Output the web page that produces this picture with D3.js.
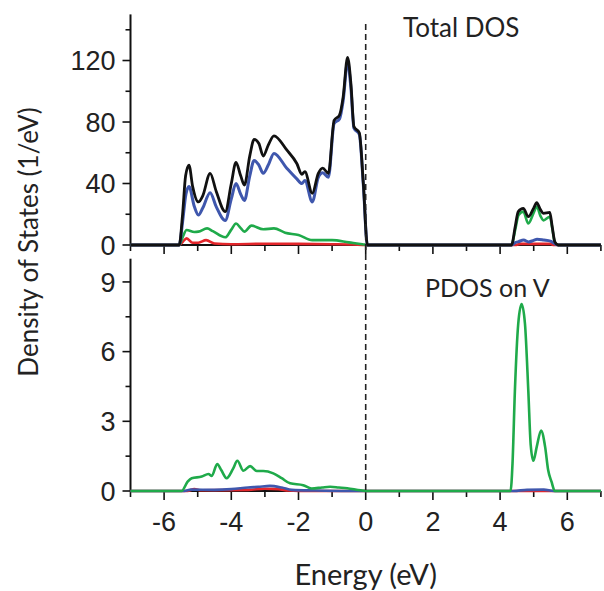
<!DOCTYPE html>
<html><head><meta charset="utf-8">
<script src="https://cdn.jsdelivr.net/npm/d3@7"></script>
<style>html,body{margin:0;padding:0;background:#fff;} svg{display:block;}</style>
</head><body>
<script>
// ---- data (energy eV, DOS) ----
const xTicks = [-6,-4,-2,0,2,4,6];
const topTicks = [0,40,80,120];
const bottomTicks = [0,3,6,9];
const topLabel = "Total DOS";
const bottomLabel = "PDOS on V";
const xTitle = "Energy (eV)";
const yTitle = "Density of States (1/eV)";

const totalDOS = [[-7,0],[-5.55,0],[-5.45,20],[-5.36,45],[-5.26,52],[-5.15,38],[-4.98,28],[-4.85,32],[-4.63,46.6],[-4.45,35],[-4.18,21.7],[-4.0,40],[-3.86,53.8],[-3.72,45],[-3.61,39],[-3.45,58],[-3.32,68.7],[-3.18,66],[-3.05,57.9],[-2.9,65],[-2.73,71],[-2.35,61.8],[-2.05,53],[-1.9,46],[-1.81,47.7],[-1.59,33.6],[-1.41,46.6],[-1.28,50],[-1.11,46.6],[-0.94,81],[-0.78,84.5],[-0.67,96.5],[-0.54,122],[-0.44,105],[-0.35,77],[-0.19,73],[-0.07,40],[0.05,0],[4.34,0],[4.45,12],[4.54,21.7],[4.69,23.8],[4.84,18.4],[5.0,24],[5.09,27.5],[5.2,23],[5.29,20.6],[5.48,21.2],[5.55,12],[5.63,2],[5.73,0],[7,0]];
const topBlue = [[-7,0],[-5.55,0],[-5.45,15],[-5.35,33],[-5.26,38],[-5.1,25],[-4.98,19.5],[-4.85,24],[-4.63,34],[-4.45,25],[-4.18,16],[-4.0,30],[-3.86,40],[-3.72,33],[-3.61,29],[-3.45,45],[-3.32,55],[-3.18,52],[-3.05,46.6],[-2.9,52],[-2.73,59.6],[-2.35,50],[-2.05,43],[-1.9,40],[-1.81,42],[-1.59,28],[-1.41,44],[-1.28,47],[-1.11,44],[-0.94,79],[-0.78,82],[-0.67,94],[-0.54,119],[-0.44,102],[-0.35,76],[-0.19,72],[-0.07,39],[0.05,0],[4.34,0],[4.45,1.5],[4.55,2.2],[4.7,3.2],[4.85,2],[5.0,3],[5.1,3.7],[5.3,3.2],[5.5,2.5],[5.63,0.8],[5.73,0],[7,0]];
const topGreen = [[-7,0],[-5.55,0],[-5.45,5],[-5.33,9.8],[-5.1,8.5],[-4.98,8.7],[-4.72,10.8],[-4.55,9],[-4.18,5],[-4.0,10],[-3.86,14],[-3.72,11],[-3.61,8.7],[-3.4,12.6],[-3.05,10.2],[-2.73,10.8],[-2.4,8],[-2.0,6.5],[-1.59,3.2],[-1.0,3.2],[-0.5,1.7],[-0.1,0.5],[0.05,0],[4.34,0],[4.45,10],[4.55,19.5],[4.69,21.7],[4.84,14],[5.0,21],[5.09,25],[5.2,19],[5.29,16],[5.48,18.4],[5.56,10],[5.63,1.5],[5.73,0],[7,0]];
const topRed = [[-7,0],[-5.55,0],[-5.45,2],[-5.33,4.3],[-5.15,1.5],[-4.98,1.5],[-4.75,3.2],[-4.5,1],[-4.0,0.5],[-3.0,0.8],[-2.0,0.7],[-1.0,0.5],[-0.4,0.3],[0.0,0],[4.45,0],[4.6,0.7],[5.5,0.7],[5.6,0],[7,0]];

const vGreen = [[-7,0],[-5.48,0],[-5.3,0.4],[-5.18,0.55],[-4.88,0.62],[-4.68,0.73],[-4.58,0.65],[-4.42,1.16],[-4.3,0.9],[-4.14,0.55],[-3.95,0.95],[-3.82,1.3],[-3.64,0.87],[-3.44,1.07],[-3.24,0.86],[-3.05,0.86],[-2.75,0.76],[-2.5,0.55],[-2.25,0.33],[-1.86,0.25],[-1.61,0.11],[-1.3,0.15],[-1.06,0.18],[-0.8,0.15],[-0.55,0.12],[-0.15,0.03],[0.1,0],[4.31,0],[4.37,1.2],[4.44,4.3],[4.54,7.2],[4.64,8.05],[4.74,7.2],[4.84,4.3],[4.91,2.0],[4.99,1.3],[5.09,1.9],[5.22,2.6],[5.34,1.9],[5.43,0.9],[5.53,0.4],[5.63,0],[7,0]];
const vBlue = [[-7,0],[-5.4,0],[-5.2,0.06],[-4.5,0.05],[-4.0,0.08],[-3.5,0.15],[-3.2,0.18],[-2.85,0.22],[-2.5,0.15],[-2.2,0.05],[-1.5,0.02],[-0.5,0],[4.4,0],[4.8,0.05],[5.3,0.06],[5.6,0],[7,0]];
const vRed = [[-7,0],[-5.3,0],[-5.1,0.08],[-4.9,0.03],[-3.5,0.05],[-3.0,0.1],[-2.6,0.08],[-2.3,0.02],[-2.0,0],[7,0]];

const colors = {black:"#111111", blue:"#3f57ad", green:"#1faa4a", red:"#e3262b"};

// ---- layout ----
const W = 604, H = 591;
const svg = d3.select("body").append("svg").attr("width",W).attr("height",H);

const x = d3.scaleLinear().domain([-7,7]).range([130.5,600.9]);
const yTop = d3.scaleLinear().domain([0,150]).range([245,14.4]);
const yBot = d3.scaleLinear().domain([0,10]).range([491,258.7]);

const tickFont = "'Liberation Sans', Arial, sans-serif";
const titleFont = "Lato, 'Open Sans', sans-serif";

function drawPanel(y, majors, minorStep, showXLabels){
  const gx = svg.append("g").attr("transform",`translate(0,${y(0)})`);
  gx.append("line").attr("x1",x(-7)).attr("x2",x(7)).attr("stroke","#111").attr("stroke-width",2);
  const xs = d3.range(-7,7.001,1);
  xs.forEach(v=>{
    const major = Math.abs(v%2)===0;
    gx.append("line").attr("x1",x(v)).attr("x2",x(v)).attr("y1",0).attr("y2",major?9:6)
      .attr("stroke","#111").attr("stroke-width",1.6);
  });
  if(showXLabels){
    xTicks.forEach(v=>{
      gx.append("text").attr("x",x(v)).attr("y",40).attr("text-anchor","middle")
        .attr("font-family",tickFont).attr("font-size",27).attr("fill","#222")
        .text(v<0? "-"+Math.abs(v) : String(v));
    });
  }
  const [d0,d1] = y.domain();
  const gy = svg.append("g").attr("transform",`translate(${x(-7)},0)`);
  gy.append("line").attr("y1",y(d0)).attr("y2",y(d1)).attr("stroke","#111").attr("stroke-width",2);
  const mins = d3.range(d0, d1+1e-6, minorStep);
  mins.forEach(v=>{
    const major = majors.includes(+v.toFixed(4));
    gy.append("line").attr("x1",major?-8:-5).attr("x2",0).attr("y1",y(v)).attr("y2",y(v))
      .attr("stroke","#111").attr("stroke-width",1.6);
  });
  majors.forEach(v=>{
    gy.append("text").attr("x",-15).attr("y",y(v)).attr("dy","0.36em").attr("text-anchor","end")
      .attr("font-family",tickFont).attr("font-size",27).attr("fill","#222").text(v);
  });
}

drawPanel(yTop, topTicks, 20, false);
drawPanel(yBot, bottomTicks, 1.5, true);

function curve(data, y, color, w){
  const line = d3.line().x(d=>x(d[0])).y(d=>y(d[1])).curve(d3.curveMonotoneX);
  svg.append("path").datum(data).attr("d",line).attr("fill","none")
    .attr("stroke",color).attr("stroke-width",w).attr("stroke-linejoin","round");
}
curve(topRed, yTop, colors.red, 2.6);
curve(topGreen, yTop, colors.green, 2.6);
curve(topBlue, yTop, colors.blue, 3);
curve(totalDOS, yTop, colors.black, 2.8);

curve(vRed, yBot, colors.red, 2.6);
curve(vBlue, yBot, colors.blue, 2.6);
curve(vGreen, yBot, colors.green, 2.6);

// Fermi level
svg.append("line").attr("x1",x(0)).attr("x2",x(0)).attr("y1",24).attr("y2",yBot(0))
  .attr("stroke","#222").attr("stroke-width",1.6).attr("stroke-dasharray","6,4");

// labels
svg.append("text").attr("x",403).attr("y",37).attr("font-family",titleFont).attr("font-size",26)
  .attr("fill","#222").text(topLabel);
svg.append("text").attr("x",425).attr("y",297).attr("font-family",titleFont).attr("font-size",25)
  .attr("fill","#222").text(bottomLabel);
svg.append("text").attr("x",x(0)).attr("y",585).attr("text-anchor","middle")
  .attr("font-family",titleFont).attr("font-size",29).attr("fill","#222").text(xTitle);
svg.append("text").attr("transform","translate(38,242) rotate(-90)").attr("text-anchor","middle")
  .attr("font-family",titleFont).attr("font-size",26).attr("fill","#222").text(yTitle);
</script>
</body></html>
